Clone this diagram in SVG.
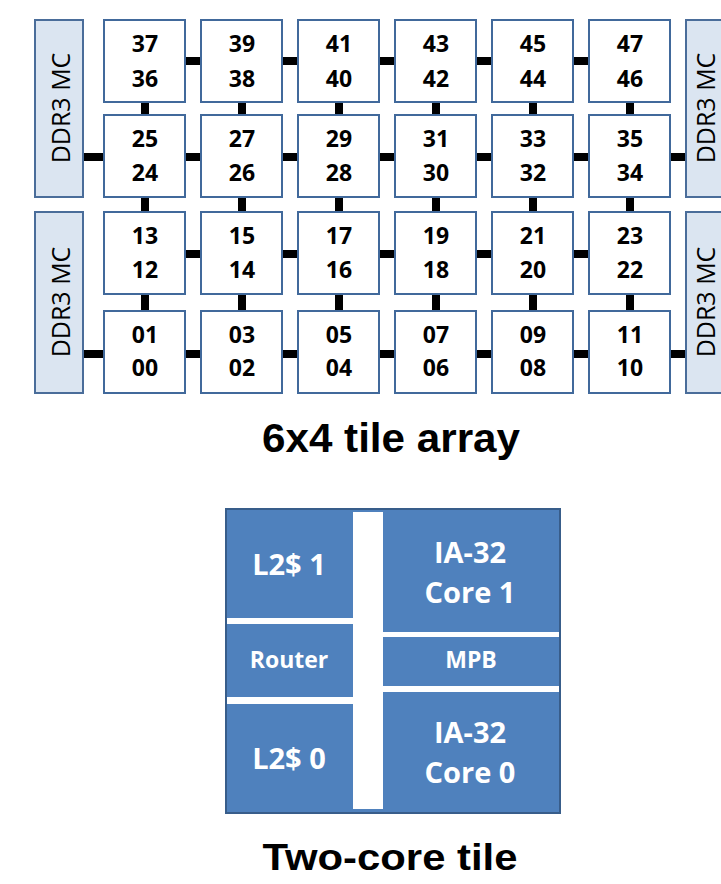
<svg xmlns="http://www.w3.org/2000/svg" width="721" height="884" viewBox="0 0 721 884">
<style>
.mc{fill:#dbe5f1;stroke:#4a6d9a;stroke-width:2}
.mct{font-family:"Open Sans",sans-serif;font-size:25px;fill:#000;text-anchor:middle}
.tile{fill:#fff;stroke:#41699b;stroke-width:2}
.num{font-family:"Open Sans",sans-serif;font-weight:bold;font-size:23px;fill:#000;text-anchor:middle}
.cn line{stroke:#000;stroke-width:8}
.title{font-family:"Liberation Sans",Arial,sans-serif;font-weight:bold;fill:#000;text-anchor:middle}
.wt{font-family:"Open Sans",sans-serif;font-weight:bold;fill:#fff;text-anchor:middle}
</style>
<rect width="721" height="884" fill="#fff"/>
<g id="connectors" class="cn">
<line x1="83" y1="157" x2="104" y2="157"/>
<line x1="83" y1="354" x2="104" y2="354"/>
<line x1="670" y1="157" x2="686" y2="157"/>
<line x1="670" y1="354" x2="686" y2="354"/>
<line x1="185" y1="61" x2="201" y2="61"/><line x1="282" y1="61" x2="298" y2="61"/><line x1="379" y1="61" x2="395" y2="61"/><line x1="476" y1="61" x2="492" y2="61"/><line x1="573" y1="61" x2="589" y2="61"/>
<line x1="185" y1="157" x2="201" y2="157"/><line x1="282" y1="157" x2="298" y2="157"/><line x1="379" y1="157" x2="395" y2="157"/><line x1="476" y1="157" x2="492" y2="157"/><line x1="573" y1="157" x2="589" y2="157"/>
<line x1="185" y1="254" x2="201" y2="254"/><line x1="282" y1="254" x2="298" y2="254"/><line x1="379" y1="254" x2="395" y2="254"/><line x1="476" y1="254" x2="492" y2="254"/><line x1="573" y1="254" x2="589" y2="254"/>
<line x1="185" y1="354" x2="201" y2="354"/><line x1="282" y1="354" x2="298" y2="354"/><line x1="379" y1="354" x2="395" y2="354"/><line x1="476" y1="354" x2="492" y2="354"/><line x1="573" y1="354" x2="589" y2="354"/>
<line x1="145" y1="102" x2="145" y2="115"/><line x1="242" y1="102" x2="242" y2="115"/><line x1="339" y1="102" x2="339" y2="115"/><line x1="436" y1="102" x2="436" y2="115"/><line x1="533" y1="102" x2="533" y2="115"/><line x1="630" y1="102" x2="630" y2="115"/>
<line x1="145" y1="197" x2="145" y2="212"/><line x1="242" y1="197" x2="242" y2="212"/><line x1="339" y1="197" x2="339" y2="212"/><line x1="436" y1="197" x2="436" y2="212"/><line x1="533" y1="197" x2="533" y2="212"/><line x1="630" y1="197" x2="630" y2="212"/>
<line x1="145" y1="294" x2="145" y2="311"/><line x1="242" y1="294" x2="242" y2="311"/><line x1="339" y1="294" x2="339" y2="311"/><line x1="436" y1="294" x2="436" y2="311"/><line x1="533" y1="294" x2="533" y2="311"/><line x1="630" y1="294" x2="630" y2="311"/>
</g>
<g id="mc-left-top"><rect class="mc" x="35" y="20" width="48" height="177"/><text class="mct" transform="translate(70,108) rotate(-90)">DDR3 MC</text></g>
<g id="mc-left-bottom"><rect class="mc" x="35" y="212" width="48" height="181"/><text class="mct" transform="translate(70,302) rotate(-90)">DDR3 MC</text></g>
<g id="mc-right-top"><rect class="mc" x="686" y="20" width="48" height="177"/><text class="mct" transform="translate(715,108) rotate(-90)">DDR3 MC</text></g>
<g id="mc-right-bottom"><rect class="mc" x="686" y="212" width="48" height="181"/><text class="mct" transform="translate(715,302) rotate(-90)">DDR3 MC</text></g>
<g id="t37"><rect class="tile" x="104" y="20" width="81" height="82"/><text class="num" x="145" y="52">37</text><text class="num" x="145" y="87">36</text></g>
<g id="t39"><rect class="tile" x="201" y="20" width="81" height="82"/><text class="num" x="242" y="52">39</text><text class="num" x="242" y="87">38</text></g>
<g id="t41"><rect class="tile" x="298" y="20" width="81" height="82"/><text class="num" x="339" y="52">41</text><text class="num" x="339" y="87">40</text></g>
<g id="t43"><rect class="tile" x="395" y="20" width="81" height="82"/><text class="num" x="436" y="52">43</text><text class="num" x="436" y="87">42</text></g>
<g id="t45"><rect class="tile" x="492" y="20" width="81" height="82"/><text class="num" x="533" y="52">45</text><text class="num" x="533" y="87">44</text></g>
<g id="t47"><rect class="tile" x="589" y="20" width="81" height="82"/><text class="num" x="630" y="52">47</text><text class="num" x="630" y="87">46</text></g>
<g id="t25"><rect class="tile" x="104" y="115" width="81" height="82"/><text class="num" x="145" y="147">25</text><text class="num" x="145" y="181">24</text></g>
<g id="t27"><rect class="tile" x="201" y="115" width="81" height="82"/><text class="num" x="242" y="147">27</text><text class="num" x="242" y="181">26</text></g>
<g id="t29"><rect class="tile" x="298" y="115" width="81" height="82"/><text class="num" x="339" y="147">29</text><text class="num" x="339" y="181">28</text></g>
<g id="t31"><rect class="tile" x="395" y="115" width="81" height="82"/><text class="num" x="436" y="147">31</text><text class="num" x="436" y="181">30</text></g>
<g id="t33"><rect class="tile" x="492" y="115" width="81" height="82"/><text class="num" x="533" y="147">33</text><text class="num" x="533" y="181">32</text></g>
<g id="t35"><rect class="tile" x="589" y="115" width="81" height="82"/><text class="num" x="630" y="147">35</text><text class="num" x="630" y="181">34</text></g>
<g id="t13"><rect class="tile" x="104" y="212" width="81" height="82"/><text class="num" x="145" y="244">13</text><text class="num" x="145" y="278">12</text></g>
<g id="t15"><rect class="tile" x="201" y="212" width="81" height="82"/><text class="num" x="242" y="244">15</text><text class="num" x="242" y="278">14</text></g>
<g id="t17"><rect class="tile" x="298" y="212" width="81" height="82"/><text class="num" x="339" y="244">17</text><text class="num" x="339" y="278">16</text></g>
<g id="t19"><rect class="tile" x="395" y="212" width="81" height="82"/><text class="num" x="436" y="244">19</text><text class="num" x="436" y="278">18</text></g>
<g id="t21"><rect class="tile" x="492" y="212" width="81" height="82"/><text class="num" x="533" y="244">21</text><text class="num" x="533" y="278">20</text></g>
<g id="t23"><rect class="tile" x="589" y="212" width="81" height="82"/><text class="num" x="630" y="244">23</text><text class="num" x="630" y="278">22</text></g>
<g id="t01"><rect class="tile" x="104" y="311" width="81" height="82"/><text class="num" x="145" y="343">01</text><text class="num" x="145" y="376">00</text></g>
<g id="t03"><rect class="tile" x="201" y="311" width="81" height="82"/><text class="num" x="242" y="343">03</text><text class="num" x="242" y="376">02</text></g>
<g id="t05"><rect class="tile" x="298" y="311" width="81" height="82"/><text class="num" x="339" y="343">05</text><text class="num" x="339" y="376">04</text></g>
<g id="t07"><rect class="tile" x="395" y="311" width="81" height="82"/><text class="num" x="436" y="343">07</text><text class="num" x="436" y="376">06</text></g>
<g id="t09"><rect class="tile" x="492" y="311" width="81" height="82"/><text class="num" x="533" y="343">09</text><text class="num" x="533" y="376">08</text></g>
<g id="t11"><rect class="tile" x="589" y="311" width="81" height="82"/><text class="num" x="630" y="343">11</text><text class="num" x="630" y="376">10</text></g>
<text class="title" x="391" y="452" font-size="40" textLength="258" lengthAdjust="spacingAndGlyphs">6x4 tile array</text>
<g id="two-core-tile">
<rect x="226" y="509" width="334" height="304" fill="#4f81bd" stroke="#385d8a" stroke-width="2"/>
<rect x="353" y="512" width="30" height="297" fill="#fff"/>
<rect x="227" y="618" width="126" height="6" fill="#fff"/>
<rect x="227" y="697" width="126" height="7" fill="#fff"/>
<rect x="383" y="632" width="176" height="5" fill="#fff"/>
<rect x="383" y="686" width="176" height="6" fill="#fff"/>
<text class="wt" x="289" y="575" font-size="29">L2$ 1</text>
<text class="wt" x="289" y="668" font-size="23">Router</text>
<text class="wt" x="289" y="769" font-size="29">L2$ 0</text>
<text class="wt" x="470" y="563" font-size="29">IA-32</text>
<text class="wt" x="470" y="603" font-size="29">Core 1</text>
<text class="wt" x="471" y="668" font-size="23">MPB</text>
<text class="wt" x="470" y="743" font-size="29">IA-32</text>
<text class="wt" x="470" y="783" font-size="29">Core 0</text>
</g>
<text class="title" x="390" y="870" font-size="37" textLength="255" lengthAdjust="spacingAndGlyphs">Two-core tile</text>
</svg>
